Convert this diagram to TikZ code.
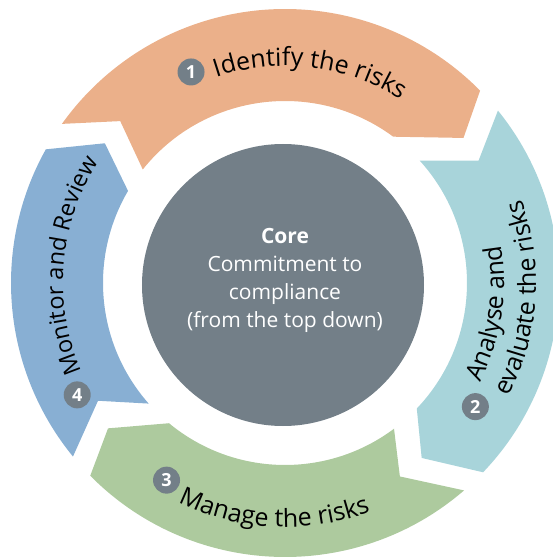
\documentclass[tikz,border=0pt]{standalone}
\usepackage{fontspec}
\setmainfont{Open Sans}
\usetikzlibrary{decorations.text}
\definecolor{coregray}{RGB}{115,127,136}
\definecolor{stepone}{RGB}{235,176,138}
\definecolor{steptwo}{RGB}{168,212,218}
\definecolor{stepthree}{RGB}{173,202,158}
\definecolor{stepfour}{RGB}{136,175,211}
\newcommand\ringfont{\fontsize{25}{28}\selectfont}
\newcommand\smallringfont{\fontsize{23.5}{28}\selectfont}

\begin{document}
\begin{tikzpicture}
\tikzstyle{badge}=[circle,fill=coregray,text=white,inner sep=0pt,minimum size=27pt,font=\fontsize{18}{18}\selectfont\bfseries]
\tikzstyle{ringtext}=[decorate,decoration={text along path,text align=left}]
\useasboundingbox (-285pt,-276pt) rectangle (267pt,283pt);
% the four arrows of the ring
\fill[stepone] (144.5:274pt) arc[start angle=144.5,end angle=44.6,radius=274pt] -- (39.1:230pt) -- (53.5:182pt) arc[start angle=53.5,end angle=141.4,radius=182pt] -- (135.5:231pt) -- cycle;
\fill[steptwo] (39:274pt) arc[start angle=39,end angle=-43.7,radius=274pt] -- (-52:222pt) -- (-43.6:182pt) arc[start angle=-43.6,end angle=42.3,radius=182pt] -- (32.3:229pt) -- cycle;
\fill[stepthree] (-49.2:274pt) arc[start angle=-49.2,end angle=-135.3,radius=274pt] -- (-140.6:229pt) -- (-129.6:182pt) arc[start angle=-129.6,end angle=-53.2,radius=182pt] -- (-59.3:225pt) -- cycle;
\fill[stepfour] (219.3:274pt) arc[start angle=219.3,end angle=150.8,radius=274pt] -- (142.2:228pt) -- (149.6:182pt) arc[start angle=149.6,end angle=221.5,radius=182pt] -- (212.2:221pt) -- cycle;
% core
\node[circle,fill=coregray,minimum size=282pt,inner sep=0pt] (core) at (-2pt,-2pt) {};
\node[align=center,text=white,font=\fontsize{21}{28}\selectfont] (coretext) at (0pt,3pt) {\textbf{Core}\\Commitment to\\compliance\\(from the top down)};
% numbers
\node[badge] (one) at (114:231pt) {1};
\node[badge] (two) at (-33:227pt) {2};
\node[badge] (three) at (239:230pt) {3};
\node[badge] (four) at (208.3:236pt) {4};
% labels
\path[ringtext,decoration={text={|\ringfont|Identify the risks}}] (108.5:217pt) arc[start angle=108.5,end angle=20,radius=217pt];
\path[ringtext,decoration={text={|\ringfont|Analyse and}}] (-27:219pt) arc[start angle=-27,end angle=40,radius=219pt];
\path[ringtext,decoration={text={|\ringfont|evaluate the risks}}] (-27:251pt) arc[start angle=-27,end angle=45,radius=251pt];
\path[ringtext,decoration={text={|\ringfont|Manage the risks}}] (244:244pt) arc[start angle=244,end angle=320,radius=244pt];
\path[ringtext,decoration={text={|\smallringfont|Monitor and Review}}] (203.5:222pt) arc[start angle=203.5,end angle=120,radius=222pt];
\end{tikzpicture}
\end{document}
